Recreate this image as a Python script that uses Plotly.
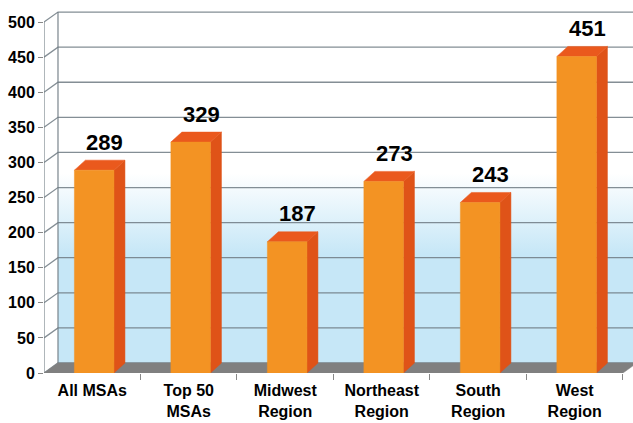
import plotly.graph_objects as go

# ---- data ----
categories = ["All MSAs", "Top 50<br>MSAs", "Midwest<br>Region", "Northeast<br>Region",
              "South<br>Region", "West<br>Region"]
values = [289, 329, 187, 273, 243, 451]
y_ticks = [0, 50, 100, 150, 200, 250, 300, 350, 400, 450, 500]

# ---- style ----
FRONT = "#F39323"
SIDE = "#DF5318"
TOP = "#EA591D"
FLOOR = "#808080"
GRID = "rgba(110,122,130,0.85)"
BLUE = "#C6E7F7"
FONT = "Arial"

XMAX = 5.604
YMAX = 530
wall_dx, wall_dy = 0.145, 14.25     # depth of the back wall (axis units)
bar_dx, bar_dy = 0.114, 14.25       # depth of bars
half_w, off = 0.205, 0.02

fig = go.Figure()

n = len(values)
x0w = -0.5 + wall_dx
ytop = y_ticks[-1] + wall_dy

# back wall with vertical gradient
fig.add_trace(go.Scatter(
    x=[x0w, XMAX + 1, XMAX + 1, x0w, x0w],
    y=[wall_dy, wall_dy, ytop, ytop, wall_dy],
    fill="toself", mode="none",
    fillgradient=dict(type="vertical",
                      colorscale=[[0, BLUE], [0.31, BLUE], [0.54, "white"], [1, "white"]]),
    hoverinfo="skip", showlegend=False))

# back wall gridlines + left side diagonals
gx, gy = [], []
for v in y_ticks:
    gx += [-0.5, x0w, XMAX + 1, None]
    gy += [v, v + wall_dy, v + wall_dy, None]
gx += [x0w, x0w, None, -0.5, -0.5]
gy += [wall_dy, ytop, None, 0, y_ticks[-1]]
fig.add_trace(go.Scatter(x=gx, y=gy, mode="lines", line=dict(color=GRID, width=1.3),
                         hoverinfo="skip", showlegend=False))

# floor
fig.add_trace(go.Scatter(
    x=[-0.5, n - 0.5, n - 0.5 + wall_dx, x0w, -0.5],
    y=[0, 0, wall_dy, wall_dy, 0],
    fill="toself", mode="lines", line=dict(color=FLOOR, width=0.5), fillcolor=FLOOR,
    hoverinfo="skip", showlegend=False))

# 3D bars
for i, v in enumerate(values):
    xl, xr = i + off - half_w, i + off + half_w
    # side
    fig.add_trace(go.Scatter(
        x=[xr, xr + bar_dx, xr + bar_dx, xr, xr],
        y=[0, bar_dy, v + bar_dy, v, 0],
        fill="toself", mode="lines", line=dict(color=SIDE, width=0.5), fillcolor=SIDE,
        hoverinfo="skip", showlegend=False))
    # top
    fig.add_trace(go.Scatter(
        x=[xl, xl + bar_dx, xr + bar_dx, xr, xl],
        y=[v, v + bar_dy, v + bar_dy, v, v],
        fill="toself", mode="lines", line=dict(color=TOP, width=0.5), fillcolor=TOP,
        hoverinfo="skip", showlegend=False))
    # front
    fig.add_trace(go.Scatter(
        x=[xl, xr, xr, xl, xl],
        y=[0, 0, v, v, 0],
        fill="toself", mode="lines", line=dict(color=FRONT, width=0.5), fillcolor=FRONT,
        hoverinfo="skip", showlegend=False))
    fig.add_annotation(x=i + 0.13, y=v + 40, text=str(v), showarrow=False,
                       xanchor="center", yanchor="middle",
                       font=dict(family=FONT, size=22, color="black", weight="bold"))

fig.update_layout(
    width=633, height=423,
    margin=dict(l=44, r=0, t=1, b=50),
    paper_bgcolor="white", plot_bgcolor="white",
    showlegend=False,
    xaxis=dict(range=[-0.5, XMAX], tickvals=list(range(n)), ticktext=categories,
               showgrid=False, zeroline=False, showline=False, ticks="",
               ticklabelstandoff=6, automargin=False,
               tickfont=dict(family=FONT, size=16, color="black", weight="bold"),
               minor=dict(tickvals=[k + 0.5 for k in range(n)], ticks="outside",
                          ticklen=6, tickcolor="#888", tickwidth=1.3),
               fixedrange=True),
    yaxis=dict(range=[0, YMAX], tickvals=y_ticks, showgrid=False, zeroline=False,
               showline=False, ticks="outside", ticklen=5, tickcolor="#888", tickwidth=1.3,
               automargin=False,
               tickfont=dict(family=FONT, size=16, color="black", weight="bold"),
               fixedrange=True),
)

fig.write_html("out.html")
